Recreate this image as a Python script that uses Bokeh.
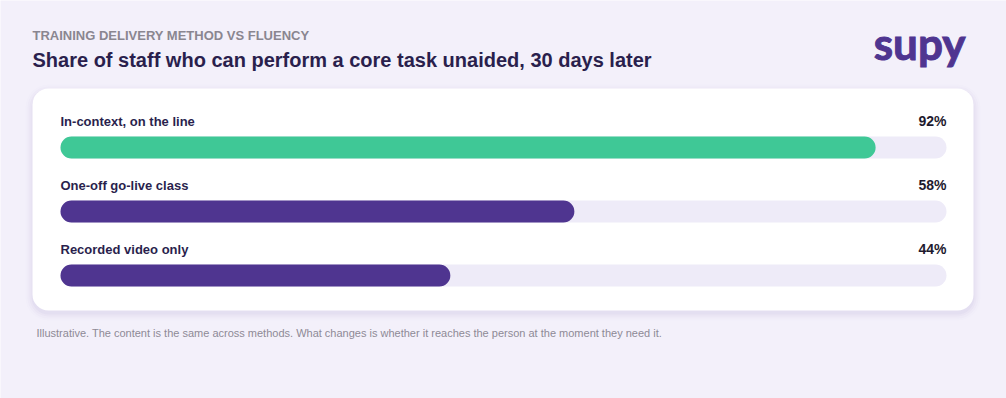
from bokeh.plotting import figure
from bokeh.models import Range1d, ColumnDataSource
from bokeh.core.properties import value
from bokeh.embed import file_html
from bokeh.resources import INLINE

# --- data -------------------------------------------------------------
methods = ["In-context, on the line", "One-off go-live class", "Recorded video only"]
fluency_pct = [92, 58, 44]
bar_colors = ["#3fc896", "#4f3590", "#4f3590"]

eyebrow = "TRAINING DELIVERY METHOD VS FLUENCY"
title = "Share of staff who can perform a core task unaided, 30 days later"
footnote = ("Illustrative. The content is the same across methods. "
            "What changes is whether it reaches the person at the moment they need it.")

# --- layout (page pixels) --------------------------------------------
W, H = 1006, 398
TRACK_L, TRACK_R = 60, 946          # pixel span of 0..100 %
SCALE = (TRACK_R - TRACK_L) / 100.0  # pixels per percent


def px(x):
    """Convert a horizontal page position into percent-axis units."""
    return (x - TRACK_L) / SCALE


def base(y, size):
    """Anchor so the text's baseline lands on page row y."""
    return y - 0.4 * size


BG = "#f3f0fa"
FONT = value("Liberation Sans")

p = figure(width=W, height=H, output_backend="svg", toolbar_location=None,
           x_range=Range1d(px(0), px(W)), y_range=Range1d(H, 0),
           min_border=0, background_fill_color=BG, border_fill_color=BG)
p.axis.visible = False
p.grid.visible = False
p.outline_line_color = None

# card shadow + card
for grow, alpha in [(7, 0.012), (5, 0.018), (3, 0.025), (1, 0.03)]:
    p.quad(left=[px(32 - grow)], right=[px(973 + grow)], top=[88 - grow + 3], bottom=[310 + grow + 3],
           fill_color="#4f3590", fill_alpha=alpha, line_color=None, border_radius=16 + grow)
p.quad(left=[px(32)], right=[px(973)], top=[88], bottom=[310],
       fill_color="white", line_color=None, border_radius=16)

# bars
row_y = [147 + 64 * i for i in range(len(methods))]
src = ColumnDataSource(dict(
    y=row_y,
    v=fluency_pct,
    color=bar_colors,
    label=methods,
    pct=[f"{v}%" for v in fluency_pct],
    label_y=[base(y - 21, 13) for y in row_y],
    pct_y=[base(y - 21, 14) for y in row_y],
))
p.hbar(y="y", left=0, right=100, height=22, source=src,
       fill_color="#eeebf8", line_color=None, border_radius=11)
p.hbar(y="y", left=0, right="v", height=22, source=src,
       fill_color="color", line_color=None, border_radius=11)

p.text(x=0, y="label_y", text="label", source=src, text_font=FONT,
       text_font_style="bold", text_font_size="13px", text_color="#2a1f4d",
       text_baseline="alphabetic", text_align="left")
p.text(x=100, y="pct_y", text="pct", source=src, text_font=FONT,
       text_font_style="bold", text_font_size="14px", text_color="#1e1a2e",
       text_baseline="alphabetic", text_align="right")

# headings
p.text(x=[px(32)], y=[base(40, 13)], text=[eyebrow], text_font=FONT, text_font_style="bold",
       text_font_size="13px", text_color="#8a8690", text_baseline="alphabetic")
p.text(x=[px(32)], y=[base(67, 20)], text=[title], text_font=FONT, text_font_style="bold",
       text_font_size="20px", text_color="#2a1f4d", text_baseline="alphabetic")

# wordmark
p.text(x=[px(965)], y=[base(60, 44)], text=["supy"], text_font=value("Lato"),
       text_font_style="bold", text_font_size="44px", text_color="#4f3590",
       text_outline_color="#4f3590", text_baseline="alphabetic", text_align="right")

# footnote
p.text(x=[px(36)], y=[base(337, 11)], text=[footnote], text_font=FONT,
       text_font_size="11px", text_color="#8e8a96", text_baseline="alphabetic")

open("out.html", "w").write(file_html(p, INLINE))
